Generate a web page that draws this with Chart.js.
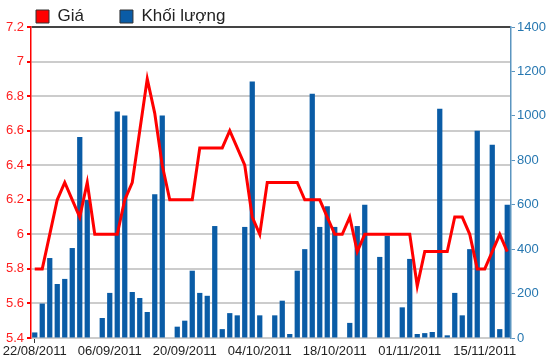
<!DOCTYPE html>
<html lang="vi">
<head>
  <meta charset="UTF-8" />
  <title>Giá và khối lượng</title>
  <script src="https://cdn.jsdelivr.net/npm/chart.js"></script>
  <style>
    body { margin: 0; background: #fff; }
  </style>
</head>
<body>
  <canvas id="chart" width="550" height="364"></canvas>

  <script>
    // ngày giao dịch (64 phiên)
    const dates = [
      '22/08/2011', '23/08/2011', '24/08/2011', '25/08/2011', '26/08/2011', '29/08/2011', '30/08/2011', '31/08/2011', '01/09/2011', '05/09/2011',
      '06/09/2011', '07/09/2011', '08/09/2011', '09/09/2011', '12/09/2011', '13/09/2011', '14/09/2011', '15/09/2011', '16/09/2011', '19/09/2011',
      '20/09/2011', '21/09/2011', '22/09/2011', '23/09/2011', '26/09/2011', '27/09/2011', '28/09/2011', '29/09/2011', '30/09/2011', '03/10/2011',
      '04/10/2011', '05/10/2011', '06/10/2011', '07/10/2011', '10/10/2011', '11/10/2011', '12/10/2011', '13/10/2011', '14/10/2011', '17/10/2011',
      '18/10/2011', '19/10/2011', '20/10/2011', '21/10/2011', '24/10/2011', '25/10/2011', '26/10/2011', '27/10/2011', '28/10/2011', '31/10/2011',
      '01/11/2011', '02/11/2011', '03/11/2011', '04/11/2011', '07/11/2011', '08/11/2011', '09/11/2011', '10/11/2011', '11/11/2011', '14/11/2011',
      '15/11/2011', '16/11/2011', '17/11/2011', '18/11/2011'
    ];

    const price = [
      5.8, 5.8, 6.0, 6.2, 6.3, 6.2, 6.1, 6.3, 6.0, 6.0,
      6.0, 6.0, 6.2, 6.3, 6.6, 6.9, 6.7, 6.4, 6.2, 6.2,
      6.2, 6.2, 6.5, 6.5, 6.5, 6.5, 6.6, 6.5, 6.4, 6.1,
      6.0, 6.3, 6.3, 6.3, 6.3, 6.3, 6.2, 6.2, 6.2, 6.1,
      6.0, 6.0, 6.1, 5.9, 6.0, 6.0, 6.0, 6.0, 6.0, 6.0,
      6.0, 5.7, 5.9, 5.9, 5.9, 5.9, 6.1, 6.1, 6.0, 5.8,
      5.8, 5.9, 6.0, 5.9
    ];

    const volume = [
      25, 155, 360, 243, 266, 405, 905, 621, 0, 90,
      203, 1020, 1002, 207, 180, 117, 647, 1002, 0, 51,
      78, 303, 203, 190, 504, 40, 112, 102, 500, 1155,
      102, 0, 102, 168, 18, 303, 400, 1100, 500, 593,
      500, 0, 68, 504, 600, 0, 365, 460, 0, 138,
      356, 18, 22, 27, 1032, 12, 203, 102, 400, 933,
      0, 870, 40, 600
    ];

    const labelEvery = 10;
    const fontMain = "'Liberation Sans', Arial, sans-serif";
    const fontNarrow = "'Liberation Sans Narrow', 'Liberation Sans', Arial, sans-serif";

    new Chart(document.getElementById('chart'), {
      data: {
        labels: dates,
        datasets: [
          {
            type: 'line',
            label: 'Giá',
            data: price,
            yAxisID: 'y',
            borderColor: '#ff0000',
            backgroundColor: '#ff0000',
            borderWidth: 3,
            pointRadius: 0,
            tension: 0,
            order: 0
          },
          {
            type: 'bar',
            label: 'Khối lượng',
            data: volume,
            yAxisID: 'y1',
            backgroundColor: '#0a5ca6',
            barPercentage: 0.7,
            categoryPercentage: 1,
            order: 1
          }
        ]
      },
      options: {
        responsive: false,
        animation: false,
        layout: { padding: { top: -28, left: 0, right: 0, bottom: 0 } },
        plugins: {
          legend: {
            position: 'top',
            align: 'start',
            maxHeight: 55,
            labels: {
              font: { family: fontMain, size: 17 },
              color: '#222',
              boxWidth: 13,
              boxHeight: 13,
              padding: 36,
              generateLabels: chart => Chart.defaults.plugins.legend.labels.generateLabels(chart)
                .map(l => Object.assign(l, { strokeStyle: '#333', lineWidth: 1 }))
            }
          },
          tooltip: { enabled: false }
        },
        scales: {
          x: {
            offset: true,
            grid: {
              offset: false,
              drawOnChartArea: false,
              tickLength: 5,
              tickColor: c => c.index % labelEvery === 0 ? '#333' : 'rgba(0,0,0,0)'
            },
            border: { display: false },
            ticks: {
              autoSkip: false,
              maxRotation: 0,
              padding: 1,
              color: '#222',
              font: { family: fontNarrow, size: 13 },
              callback: (v, i) => i % labelEvery === 0 ? dates[i] : null
            },
            afterFit: s => { s.height = 26; }
          },
          y: {
            position: 'left',
            min: 5.4,
            max: 7.2,
            ticks: {
              stepSize: 0.2,
              color: '#ff2020',
              padding: 3,
              font: { family: fontMain, size: 13 },
              callback: v => String(Number(v.toFixed(1)))
            },
            grid: {
              color: c => c.tick && Math.abs(c.tick.value - 7.2) < 1e-6 ? '#444' : '#cccccc',
              lineWidth: 2,
              tickColor: '#ff0000',
              tickLength: 4
            },
            border: { color: '#ff0000', width: 1.5 },
            afterFit: s => { s.width = 31; }
          },
          y1: {
            position: 'right',
            min: 0,
            max: 1400,
            ticks: {
              stepSize: 200,
              color: '#2677b0',
              padding: 2,
              font: { family: fontMain, size: 13 },
              callback: v => String(v)
            },
            grid: {
              drawOnChartArea: false,
              tickColor: '#5b95c0',
              tickLength: 4
            },
            border: { color: '#5b95c0', width: 1.5 },
            afterFit: s => { s.width = 39; }
          }
        }
      }
    });
  </script>
</body>
</html>
